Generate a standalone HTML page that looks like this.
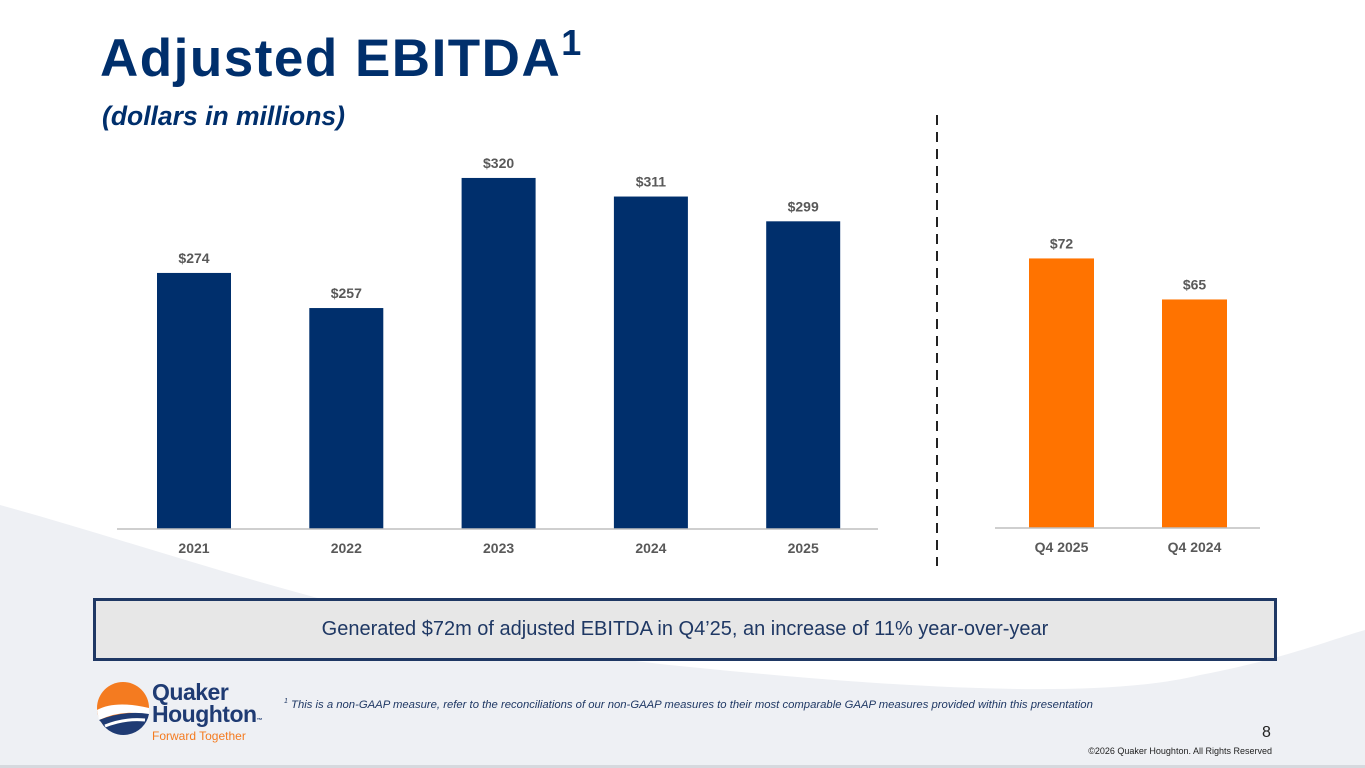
<!DOCTYPE html>
<html><head><meta charset="utf-8">
<style>
body{margin:0;width:1365px;height:768px;overflow:hidden;font-family:"Liberation Sans",sans-serif;background:#fff;position:relative}
.abs{position:absolute}
</style></head><body>
<svg class="abs" style="left:0;top:0" width="1365" height="768">
<path d="M0,505 C200,560 400,640 700,668 C900,688 1100,700 1200,675 C1280,660 1330,640 1365,630 L1365,768 L0,768 Z" fill="#eef0f4"/>
<rect x="0" y="765" width="1365" height="3" fill="#d6d9de"/>
</svg>
<div class="abs" style="left:100px;top:28px;font-size:53px;font-weight:bold;color:#002f6c;letter-spacing:1.5px">Adjusted EBITDA<sup style="font-size:36px;vertical-align:top;position:relative;top:-6px">1</sup></div>
<div class="abs" style="left:102px;top:101px;font-size:26.5px;font-weight:bold;font-style:italic;color:#002f6c">(dollars in millions)</div>
<svg id="chart" class="abs" style="left:0;top:0" width="1365" height="600"></svg>
<div class="abs" style="left:93px;top:598px;width:1178px;height:57px;border:3px solid #1f3864;background:#e7e7e7;text-align:center;line-height:57px;font-size:20px;color:#1f3864">Generated $72m of adjusted EBITDA in Q4’25, an increase of 11% year-over-year</div>
<svg class="abs" style="left:95px;top:680px" width="60" height="56">
<circle cx="28" cy="28" r="26" fill="#f47b20"/>
<path d="M2,30 Q20,20 54,28 L54,36 Q30,28 4,40 Z" fill="#fff"/>
<path d="M4,40 Q30,30 54,34 A26,26 0 0 1 6,42 Z" fill="#1f3b73"/>
<path d="M10,46 Q30,38 50,40" stroke="#fff" stroke-width="3" fill="none"/>
</svg>
<div class="abs" style="left:152px;top:681px;font-size:23px;font-weight:bold;color:#1f3b73;line-height:22px;letter-spacing:-0.5px">Quaker<br>Houghton<span style="font-size:6px">™</span></div>
<div class="abs" style="left:152px;top:729px;font-size:12px;color:#f47b20">Forward Together</div>
<div class="abs" style="left:284px;top:698px;font-size:11.3px;font-style:italic;color:#1f3864"><sup style="font-size:7px">1</sup> This is a non-GAAP measure, refer to the reconciliations of our non-GAAP measures to their most comparable GAAP measures provided within this presentation</div>
<div class="abs" style="left:1262px;top:724px;font-size:16px;color:#222">8</div>
<div class="abs" style="right:93px;top:746px;font-size:9px;color:#222">©2026 Quaker Houghton. All Rights Reserved</div>
<script>
const annualCats=["2021","2022","2023","2024","2025"];
const annualVals=[274,257,320,311,299];
const qCats=["Q4 2025","Q4 2024"];
const qVals=[72,65];
const svg=document.getElementById('chart');
const NS="http://www.w3.org/2000/svg";
function mk(t,a){const e=document.createElementNS(NS,t);for(const k in a)e.setAttribute(k,a[k]);svg.appendChild(e);return e;}
function drawPanel(cats,vals,o){
  const y=v=>o.base-(v-o.min)*o.scale;
  cats.forEach((c,i)=>{
    const x=o.x0+i*o.step;
    const top=y(vals[i]);
    const r=mk('rect',{x:x,y:top,width:o.w,height:o.base-top,fill:o.color});
    
    
    const v=mk('text',{x:x+o.w/2,y:top-10,'text-anchor':'middle','font-size':'14','font-weight':'bold',fill:'#595959'});
    v.textContent='$'+vals[i];
    
    
    const l=mk('text',{x:x+o.w/2,y:o.base+24,'text-anchor':'middle','font-size':'14','font-weight':'bold',fill:'#595959'});
    l.textContent=c;
    
    
  });
  const ax=mk('line',{x1:o.ax1,x2:o.ax2,y1:o.base,y2:o.base,stroke:'#bfbfbf','stroke-width':'1.5'});
  
  
}
drawPanel(annualCats,annualVals,{x0:157,step:152.3,w:74,base:529,min:150,scale:2.065,color:'#002f6c',ax1:117,ax2:878});
drawPanel(qCats,qVals,{x0:1029,step:133,w:65,base:528,min:26,scale:5.86,color:'#ff7300',ax1:995,ax2:1260});
const d=mk('line',{x1:937,x2:937,y1:115,y2:566,stroke:'#222','stroke-width':'2','stroke-dasharray':'10,7'});


</script>
</body></html>
